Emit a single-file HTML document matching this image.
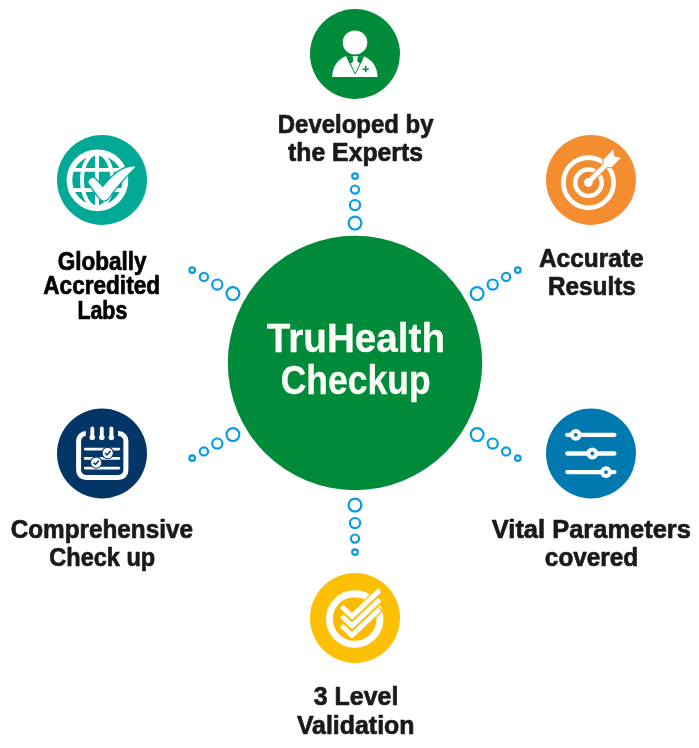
<!DOCTYPE html>
<html lang="en"><head><meta charset="utf-8"><title>TruHealth Checkup</title>
<style>html,body{margin:0;padding:0;background:#fff}svg{display:block;will-change:transform}text{font-family:"Liberation Sans",sans-serif;font-weight:700}</style></head><body>
<svg width="699" height="748" viewBox="0 0 699 748">
<rect width="699" height="748" fill="#fff"/>
<circle cx="355" cy="363" r="127.2" fill="#008b3a"/>
<g fill="none" stroke="#069ce4" stroke-width="2.2">
<circle cx="477.1" cy="293.6" r="6.4"/>
<circle cx="492.7" cy="284.6" r="5.1"/>
<circle cx="506.1" cy="276.9" r="4.1"/>
<circle cx="517.8" cy="270.1" r="2.8"/>
<circle cx="355.0" cy="223.1" r="6.4"/>
<circle cx="355.0" cy="205.1" r="5.1"/>
<circle cx="355.0" cy="189.6" r="4.1"/>
<circle cx="355.0" cy="176.1" r="2.8"/>
<circle cx="232.9" cy="293.6" r="6.4"/>
<circle cx="217.3" cy="284.6" r="5.1"/>
<circle cx="203.9" cy="276.9" r="4.1"/>
<circle cx="192.2" cy="270.1" r="2.8"/>
<circle cx="232.9" cy="434.6" r="6.4"/>
<circle cx="217.3" cy="443.6" r="5.1"/>
<circle cx="203.9" cy="451.4" r="4.1"/>
<circle cx="192.2" cy="458.1" r="2.8"/>
<circle cx="355.0" cy="505.1" r="6.4"/>
<circle cx="355.0" cy="523.1" r="5.1"/>
<circle cx="355.0" cy="538.6" r="4.1"/>
<circle cx="355.0" cy="552.1" r="2.8"/>
<circle cx="477.1" cy="434.6" r="6.4"/>
<circle cx="492.7" cy="443.6" r="5.1"/>
<circle cx="506.1" cy="451.4" r="4.1"/>
<circle cx="517.8" cy="458.1" r="2.8"/>
</g>
<text x="266.87" y="351.85" font-size="40.0" textLength="178.2" lengthAdjust="spacingAndGlyphs" fill="#fdfef8" stroke="#fdfef8" stroke-width="0.3" stroke-linejoin="round">TruHealth</text>
<text x="280.76" y="394.35" font-size="40.0" textLength="149.8" lengthAdjust="spacingAndGlyphs" fill="#fdfef8" stroke="#fdfef8" stroke-width="0.3" stroke-linejoin="round">Checkup</text>
<text x="277.79" y="132.65" font-size="25.7" textLength="155.7" lengthAdjust="spacingAndGlyphs" fill="#1a1a1a" stroke="#1a1a1a" stroke-width="0.7" stroke-linejoin="round">Developed by</text>
<text x="288.09" y="160.75" font-size="25.7" textLength="134.9" lengthAdjust="spacingAndGlyphs" fill="#1a1a1a" stroke="#1a1a1a" stroke-width="0.7" stroke-linejoin="round">the Experts</text>
<text x="57.66" y="269.75" font-size="25.2" textLength="88.8" lengthAdjust="spacingAndGlyphs" fill="#000" stroke="#000" stroke-width="0.7" stroke-linejoin="round">Globally</text>
<text x="43.32" y="294.35" font-size="25.2" textLength="116.7" lengthAdjust="spacingAndGlyphs" fill="#000" stroke="#000" stroke-width="0.7" stroke-linejoin="round">Accredited</text>
<text x="77.41" y="319.15" font-size="25.2" textLength="49.9" lengthAdjust="spacingAndGlyphs" fill="#000" stroke="#000" stroke-width="0.7" stroke-linejoin="round">Labs</text>
<text x="538.96" y="266.65" font-size="25.7" textLength="104.7" lengthAdjust="spacingAndGlyphs" fill="#1a1a1a" stroke="#1a1a1a" stroke-width="0.7" stroke-linejoin="round">Accurate</text>
<text x="547.92" y="295.05" font-size="25.7" textLength="88.0" lengthAdjust="spacingAndGlyphs" fill="#1a1a1a" stroke="#1a1a1a" stroke-width="0.7" stroke-linejoin="round">Results</text>
<text x="491.8" y="538.15" font-size="25.7" textLength="199.1" lengthAdjust="spacingAndGlyphs" fill="#1a1a1a" stroke="#1a1a1a" stroke-width="0.7" stroke-linejoin="round">Vital Parameters</text>
<text x="544.85" y="566.25" font-size="25.7" textLength="93.4" lengthAdjust="spacingAndGlyphs" fill="#1a1a1a" stroke="#1a1a1a" stroke-width="0.7" stroke-linejoin="round">covered</text>
<text x="10.67" y="538.05" font-size="25.7" textLength="182.3" lengthAdjust="spacingAndGlyphs" fill="#1a1a1a" stroke="#1a1a1a" stroke-width="0.7" stroke-linejoin="round">Comprehensive</text>
<text x="49.29" y="566.35" font-size="25.7" textLength="105.9" lengthAdjust="spacingAndGlyphs" fill="#1a1a1a" stroke="#1a1a1a" stroke-width="0.7" stroke-linejoin="round">Check up</text>
<text x="313.82" y="705.35" font-size="25.7" textLength="84.5" lengthAdjust="spacingAndGlyphs" fill="#1a1a1a" stroke="#1a1a1a" stroke-width="0.7" stroke-linejoin="round">3 Level</text>
<text x="296.89" y="733.95" font-size="25.7" textLength="117.6" lengthAdjust="spacingAndGlyphs" fill="#1a1a1a" stroke="#1a1a1a" stroke-width="0.7" stroke-linejoin="round">Validation</text>
<g>
<circle cx="355" cy="54" r="45" fill="#008b3a"/>
<ellipse cx="355" cy="42.5" rx="12.3" ry="12.1" fill="#fff"/>
<path d="M332.2 77.1 C332.3 67 337.5 59.8 344.8 56.5 L364.6 56.5 C372 59.8 377.4 67 377.6 77.1 Z" fill="#fff"/>
<path d="M345.9 56.3 L364.4 56.3 L355.2 74.8 Z" fill="#008b3a"/>
<path d="M352.6 56.3 L358 56.3 L357.1 61.1 L359.7 63.5 L355.2 73 L350.8 63.5 L353.5 61.1 Z" fill="#fff"/>
<path d="M362.6 69.2 H368.8 M365.7 66.1 V72.3" stroke="#008b3a" stroke-width="1.6" fill="none"/>
</g>
<g>
<circle cx="102" cy="180" r="45" fill="#02a997"/>
<circle cx="97.4" cy="180.3" r="28" fill="none" stroke="#fff" stroke-width="5.7"/>
<g fill="none" stroke="#fff" stroke-width="3.9"><path d="M97 153 V208"/><path d="M71 169.9 H124 M71 190 H124"/><ellipse cx="97.2" cy="180.3" rx="15.2" ry="27"/></g>
<path d="M87.9 181.5 Q88.5 178.2 92.1 177.3 Q94 177 95.5 178.5 L102.8 186.2 Q112 174.5 122 168.9 Q129 165.3 134.5 165.8 Q136.5 166.3 135.6 167.6 Q127 175.7 120.3 183.7 Q113.3 191.7 108.2 199 Q105.5 202 102.6 200.9 Q100 199.5 98.4 197.6 Q93 190 88.5 184 Q87.6 182.8 87.9 181.5 Z" fill="#fff" stroke="#02a997" stroke-width="1.3" stroke-linejoin="round"/>
</g>
<g>
<circle cx="591" cy="180" r="45" fill="#f38d30"/>
<circle cx="588.5" cy="182.7" r="25.1" fill="none" stroke="#fff" stroke-width="4.7"/>
<circle cx="588.5" cy="182.7" r="13.2" fill="#f18930" stroke="#fff" stroke-width="4.5"/>
<g transform="translate(588.2 182.4) rotate(-45)">
<path d="M0 0 H26" stroke="#f38d30" stroke-width="7.2" fill="none"/>
<path d="M24.3 -2.5 L27.3 -5.4 L40.6 -5.4 L36.8 0.2 L40.6 5.8 L27.3 5.8 L24.3 2.5 Z" fill="#f38d30" stroke="#f38d30" stroke-width="2.2"/>
<path d="M0 0 H26" stroke="#fff" stroke-width="5" fill="none"/>
<path d="M24.3 -2.5 L27.3 -5.4 L40.6 -5.4 L36.8 0.2 L40.6 5.8 L27.3 5.8 L24.3 2.5 Z" fill="#fff"/>
</g>
<circle cx="588.3" cy="182.5" r="4.4" fill="#fff"/>
</g>
<g>
<circle cx="591" cy="453.5" r="45" fill="#0079b0"/>
<path d="M567.3 434.8 H614.4" stroke="#fff" stroke-width="4.3" stroke-linecap="round"/>
<circle cx="575.8" cy="434.8" r="5.9" fill="#fff"/><circle cx="575.8" cy="434.8" r="1.9" fill="#0079b0"/>
<path d="M567.3 453.5 H614.4" stroke="#fff" stroke-width="4.3" stroke-linecap="round"/>
<circle cx="592.3" cy="453.5" r="5.9" fill="#fff"/><circle cx="592.3" cy="453.5" r="1.9" fill="#0079b0"/>
<path d="M567.3 472.1 H614.4" stroke="#fff" stroke-width="4.3" stroke-linecap="round"/>
<circle cx="606.0" cy="472.1" r="5.9" fill="#fff"/><circle cx="606.0" cy="472.1" r="1.9" fill="#0079b0"/>
</g>
<g>
<circle cx="102" cy="453.5" r="45" fill="#033567"/>
<path d="M85.8 433.6 A7.2 7.2 0 0 0 78.6 440.8 V470.3 A7.2 7.2 0 0 0 85.8 477.5 H118.7 A7.2 7.2 0 0 0 125.9 470.3 V440.8 A7.2 7.2 0 0 0 118.7 433.6 H118" fill="none" stroke="#fff" stroke-width="5" stroke-linecap="butt"/>
<path d="M92.3 428.5 V437.3" stroke="#fff" stroke-width="3.8" stroke-linecap="round"/><circle cx="92.3" cy="437.4" r="2.7" fill="#fff"/>
<path d="M101.8 428.5 V437.3" stroke="#fff" stroke-width="3.8" stroke-linecap="round"/><circle cx="101.8" cy="437.4" r="2.7" fill="#fff"/>
<path d="M111.4 428.5 V437.3" stroke="#fff" stroke-width="3.8" stroke-linecap="round"/><circle cx="111.4" cy="437.4" r="2.7" fill="#fff"/>
<path d="M85.2 449.1 H118.9 M85.2 458.4 H118.9 M85.2 468.1 H118.9" stroke="#fff" stroke-width="2.7" stroke-linecap="round"/>
<circle cx="107.7" cy="453.0" r="5.7" fill="#fff" stroke="#033567" stroke-width="1.1"/>
<path d="M105.10000000000001 453.0 L106.9 454.9 L110.5 451.1" fill="none" stroke="#033567" stroke-width="1.5"/>
<circle cx="96.2" cy="462.6" r="5.7" fill="#fff" stroke="#033567" stroke-width="1.1"/>
<path d="M93.60000000000001 462.6 L95.4 464.5 L99.0 460.70000000000005" fill="none" stroke="#033567" stroke-width="1.5"/>
</g>
<g>
<circle cx="355" cy="618" r="45" fill="#fdc004"/>
<circle cx="354.7" cy="619" r="22" fill="#fbbb00"/>
<circle cx="354.7" cy="619" r="25.3" fill="none" stroke="#fff" stroke-width="6.9"/>
<path d="M340.9 605.80 L352 616.40 L380.4 589.40" fill="none" stroke="#fbbb00" stroke-width="7.3"/>
<path d="M340.9 615.30 L352 625.90 L380.4 598.90" fill="none" stroke="#fbbb00" stroke-width="7.3"/>
<path d="M340.9 624.80 L352 635.40 L380.4 608.40" fill="none" stroke="#fbbb00" stroke-width="7.3"/>
<path d="M341.7 606.60 L352 616.40 L379.7 590.10" fill="none" stroke="#fff" stroke-width="4.9"/>
<path d="M341.7 616.10 L352 625.90 L379.7 599.60" fill="none" stroke="#fff" stroke-width="4.9"/>
<path d="M341.7 625.60 L352 635.40 L379.7 609.10" fill="none" stroke="#fff" stroke-width="4.9"/>
</g>
</svg></body></html>
